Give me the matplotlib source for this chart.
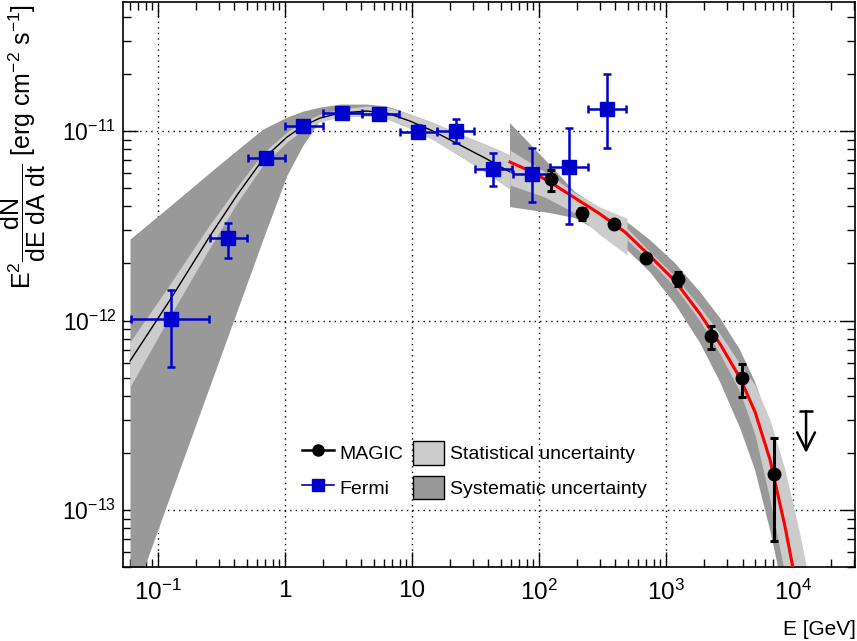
import matplotlib
matplotlib.use("Agg")
import matplotlib.pyplot as plt
from matplotlib.lines import Line2D
from matplotlib.patches import Patch
from matplotlib.ticker import FixedLocator, FixedFormatter, LogLocator, NullFormatter
import numpy as np

plt.rcParams['font.family'] = ['Liberation Sans', 'DejaVu Sans']
plt.rcParams['mathtext.fontset'] = 'custom'
plt.rcParams['mathtext.rm'] = 'Liberation Sans'
plt.rcParams['mathtext.it'] = 'Liberation Sans'
plt.rcParams['mathtext.bf'] = 'Liberation Sans:bold'
plt.rcParams['mathtext.default'] = 'regular'

# ---- Fermi-LAT spectral points (GeV, erg cm^-2 s^-1)
fermi_e = [0.1266, 0.3556, 0.7088, 1.386, 2.81, 5.50, 11.15, 22.2, 43.4, 88.1, 172.3, 343]
fermi_e_lo = [0.0610, 0.257, 0.511, 1.0, 1.99, 4.04, 8.05, 15.7, 31.3, 62.6, 122, 243]
fermi_e_hi = [0.252, 0.502, 1.0, 1.99, 4.04, 7.9, 15.7, 30.8, 61.3, 124, 243, 484]
fermi_f = [1.019e-12, 2.72e-12, 7.20e-12, 1.063e-11, 1.245e-11, 1.229e-11,
           9.88e-12, 1.0e-11, 6.30e-12, 5.93e-12, 6.46e-12, 1.306e-11]
fermi_f_lo = [5.68e-13, 2.14e-12, 6.69e-12, 1.01e-11, 1.19e-11, 1.16e-11,
              9.2e-12, 8.6e-12, 5.13e-12, 4.22e-12, 3.23e-12, 8.13e-12]
fermi_f_hi = [1.449e-12, 3.27e-12, 7.75e-12, 1.12e-11, 1.31e-11, 1.32e-11,
              1.08e-11, 1.16e-11, 7.65e-12, 8.13e-12, 1.037e-11, 2.0e-11]

# ---- MAGIC spectral points
magic_e = [124.3, 218, 389.4, 696, 1243, 2261, 3966, 7087]
magic_f = [5.58e-12, 3.69e-12, 3.23e-12, 2.14e-12, 1.656e-12, 8.28e-13, 4.97e-13, 1.549e-13]
magic_f_lo = [4.82e-12, 3.39e-12, 3.13e-12, 2.08e-12, 1.52e-12, 7.07e-13, 3.95e-13, 6.86e-14]
magic_f_hi = [6.22e-12, 3.92e-12, 3.33e-12, 2.20e-12, 1.80e-12, 9.35e-13, 5.89e-13, 2.40e-13]

# MAGIC upper limit
ul_e = [12660]
ul_f = [3.33e-13]

# ---- Fermi fit and bands
fermi_fit_e = [0.0602, 0.1243, 0.2475, 0.4188, 0.6711, 1.037, 1.386, 1.886,
               2.711, 4.423, 6.356, 9.645, 14.63, 23.88, 38.96, 59.1]
fermi_fit_f = [6.11e-13, 1.283e-12, 2.69e-12, 4.59e-12, 7.11e-12, 9.30e-12, 1.063e-11, 1.171e-11,
               1.245e-11, 1.275e-11, 1.245e-11, 1.129e-11, 1.0e-11, 8.44e-12, 7.11e-12, 6.08e-12]
fermi_stat_hi = [7.70e-13, 1.558e-12, 3.11e-12, 5.06e-12, 7.65e-12, 9.88e-12, 1.116e-11, 1.229e-11,
                 1.306e-11, 1.355e-11, 1.338e-11, 1.229e-11, 1.109e-11, 9.64e-12, 8.44e-12, 7.47e-12]
fermi_stat_lo = [4.46e-13, 1.056e-12, 2.33e-12, 4.17e-12, 6.62e-12, 8.75e-12, 1.012e-11, 1.116e-11,
                 1.186e-11, 1.200e-11, 1.157e-11, 1.037e-11, 9.02e-12, 7.38e-12, 6.00e-12, 4.94e-12]
fermi_syst_hi = [2.69e-12, 4.02e-12, 5.93e-12, 7.94e-12, 1.025e-11, 1.186e-11, 1.275e-11, 1.338e-11,
                 1.388e-11, 1.388e-11, 1.355e-11, 1.229e-11, 1.109e-11, 9.64e-12, 8.44e-12, 7.47e-12]
fermi_syst_lo = [3.08e-14, 1.186e-13, 4.25e-13, 1.122e-12, 2.69e-12, 5.86e-12, 8.44e-12, 1.143e-11,
                 1.186e-11, 1.200e-11, 1.157e-11, 1.037e-11, 9.02e-12, 7.38e-12, 6.00e-12, 4.94e-12]

# ---- MAGIC fit and bands
magic_fit_e = [59.1, 84.9, 122, 192, 302, 475, 748, 1177, 1853, 2662, 3826, 5023, 6596, 8654, 11350]
magic_fit_f = [6.86e-12, 6.15e-12, 5.38e-12, 4.43e-12, 3.65e-12, 2.93e-12, 2.19e-12, 1.616e-12,
               1.082e-12, 7.52e-13, 4.97e-13, 3.29e-13, 1.836e-13, 8.14e-14, 3.16e-14]
magic_syst_e = [59.1, 84.9, 122, 192, 302, 493, 748, 1177, 1853, 2662, 3826, 5023, 6596, 8654, 11350, 14900]
magic_syst_hi = [1.102e-11, 8.54e-12, 6.62e-12, 4.77e-12, 3.92e-12, 3.31e-12, 2.66e-12, 2.01e-12,
                 1.414e-12, 1.031e-12, 6.99e-13, 4.74e-13, 2.81e-13, 1.44e-13, 6.54e-14, 2.63e-14]
magic_syst_lo = [3.97e-12, 3.83e-12, 3.69e-12, 3.47e-12, 2.93e-12, 2.36e-12, 1.80e-12, 1.222e-12,
                 7.61e-13, 4.74e-13, 2.71e-13, 1.626e-13, 7.84e-14, 3.35e-14, 1.122e-14, 3.76e-15]
magic_stat1_e = [59.1, 111.5, 192, 302, 493]
magic_stat1_hi = [7.94e-12, 6.08e-12, 4.71e-12, 3.97e-12, 3.47e-12]
magic_stat1_lo = [5.19e-12, 4.48e-12, 3.69e-12, 2.83e-12, 2.22e-12]
magic_stat2_e = [493, 748, 1177, 1853, 2662, 3826, 5023, 6596, 8654, 11350, 14900]
magic_stat2_hi = [3.08e-12, 2.30e-12, 1.717e-12, 1.178e-12, 8.49e-13, 5.89e-13, 4.57e-13,
                  2.98e-13, 1.626e-13, 7.38e-14, 2.97e-14]
magic_stat2_lo = [2.66e-12, 2.06e-12, 1.502e-12, 9.94e-13, 6.66e-13, 4.20e-13, 2.49e-13,
                  1.129e-13, 4.54e-14, 1.43e-14, 4.79e-15]

x_ticks = [0.1, 1, 10, 100, 1e3, 1e4]
x_ticklabels = ['$10^{-1}$', '1', '10', '$10^{2}$', '$10^{3}$', '$10^{4}$']
y_ticks = [1e-13, 1e-12, 1e-11]
y_ticklabels = ['$10^{-13}$', '$10^{-12}$', '$10^{-11}$']

STAT = '#cccccc'
SYST = '#999999'
BLUE = '#0000cc'

fig = plt.figure(figsize=(8.57, 6.41), dpi=100)
ax = fig.add_axes([0.1441, 0.1147, 0.8541, 0.8822])
ax.set_xscale('log')
ax.set_yscale('log')
ax.set_xlim(0.0535, 3.1e4)
ax.set_ylim(4.97e-14, 4.8e-11)
ax.set_axisbelow(True)
ax.grid(True, which='major', color='black', lw=1.0, ls=(0, (1, 3)))

# bands
ax.fill_between(fermi_fit_e, fermi_syst_lo, fermi_syst_hi, color=SYST, lw=0, zorder=1)
ax.fill_between(fermi_fit_e, fermi_stat_lo, fermi_stat_hi, color=STAT, lw=0, zorder=2)
ax.fill_between(magic_syst_e, magic_syst_lo, magic_syst_hi, color=SYST, lw=0, zorder=1)
ax.fill_between(magic_stat1_e, magic_stat1_lo, magic_stat1_hi, color=STAT, lw=0, zorder=2)
ax.fill_between(magic_stat2_e, magic_stat2_lo, magic_stat2_hi, color=STAT, lw=0, zorder=2)

# fits
ax.plot(fermi_fit_e, fermi_fit_f, color='black', lw=1.0, zorder=3)
ax.plot(magic_fit_e, magic_fit_f, color='red', lw=2.2, zorder=3)

# Fermi points
fe = np.array(fermi_e)
ff = np.array(fermi_f)
ax.errorbar(fe, ff,
            xerr=[fe - np.array(fermi_e_lo), np.array(fermi_e_hi) - fe],
            yerr=[ff - np.array(fermi_f_lo), np.array(fermi_f_hi) - ff],
            fmt='s', color=BLUE, ms=10, elinewidth=1.8, capsize=3, capthick=1.8, zorder=5)

# MAGIC points
me = np.array(magic_e)
mf = np.array(magic_f)
ax.errorbar(me, mf,
            yerr=[mf - np.array(magic_f_lo), np.array(magic_f_hi) - mf],
            fmt='o', color='black', ms=9, elinewidth=2.2, capsize=3, capthick=2.2, zorder=6)

# upper limit
for e, f in zip(ul_e, ul_f):
    ax.annotate('', xy=(e, f * 0.6), xytext=(e, f),
                arrowprops=dict(arrowstyle='->', lw=1.8, color='black', mutation_scale=32,
                                shrinkA=0, shrinkB=0), zorder=6)
    ax.hlines(f, e / 1.13, e * 1.13, color='black', lw=1.8, zorder=6)

# axes styling
ax.xaxis.set_major_locator(FixedLocator(x_ticks))
ax.xaxis.set_major_formatter(FixedFormatter(x_ticklabels))
ax.xaxis.set_minor_locator(LogLocator(base=10, subs=np.arange(2, 10), numticks=20))
ax.xaxis.set_minor_formatter(NullFormatter())
ax.yaxis.set_major_locator(FixedLocator(y_ticks))
ax.yaxis.set_major_formatter(FixedFormatter(y_ticklabels))
ax.yaxis.set_minor_locator(LogLocator(base=10, subs=np.arange(2, 10), numticks=20))
ax.yaxis.set_minor_formatter(NullFormatter())
ax.tick_params(which='both', direction='in', top=True, right=True, width=1.0)
ax.tick_params(axis='x', labelsize=17.5, pad=9)
ax.tick_params(axis='y', labelsize=16.5, pad=5)
ax.tick_params(which='major', length=11)
ax.tick_params(which='minor', length=6)
for s in ax.spines.values():
    s.set_linewidth(1.2)

ax.set_xlabel('E [GeV]', fontsize=15, loc='right')
ax.xaxis.set_label_coords(1.0, -0.092)
ax.set_ylabel(r'$E^{2}\dfrac{dN}{dE\ dA\ dt}$ [erg cm$^{-2}$ s$^{-1}$]', fontsize=18, loc='top')
ax.yaxis.set_label_coords(-0.103, 0.997)

handles = [
    Line2D([], [], color='black', marker='o', ms=8, lw=1.8),
    Line2D([], [], color=BLUE, marker='s', ms=8, lw=1.2),
    Patch(facecolor=STAT, edgecolor='black', lw=1.0),
    Patch(facecolor=SYST, edgecolor='black', lw=1.0),
]
labels = ['MAGIC', 'Fermi', 'Statistical uncertainty', 'Systematic uncertainty']
fig.legend(handles, labels, loc='upper left', bbox_to_anchor=(0.337, 0.333), ncol=2,
           frameon=False, fontsize=14, handlelength=1.6, handleheight=1.5,
           handletextpad=0.3, columnspacing=0.5, labelspacing=0.55, borderpad=0.2)

fig.savefig('out.png', dpi=100)
